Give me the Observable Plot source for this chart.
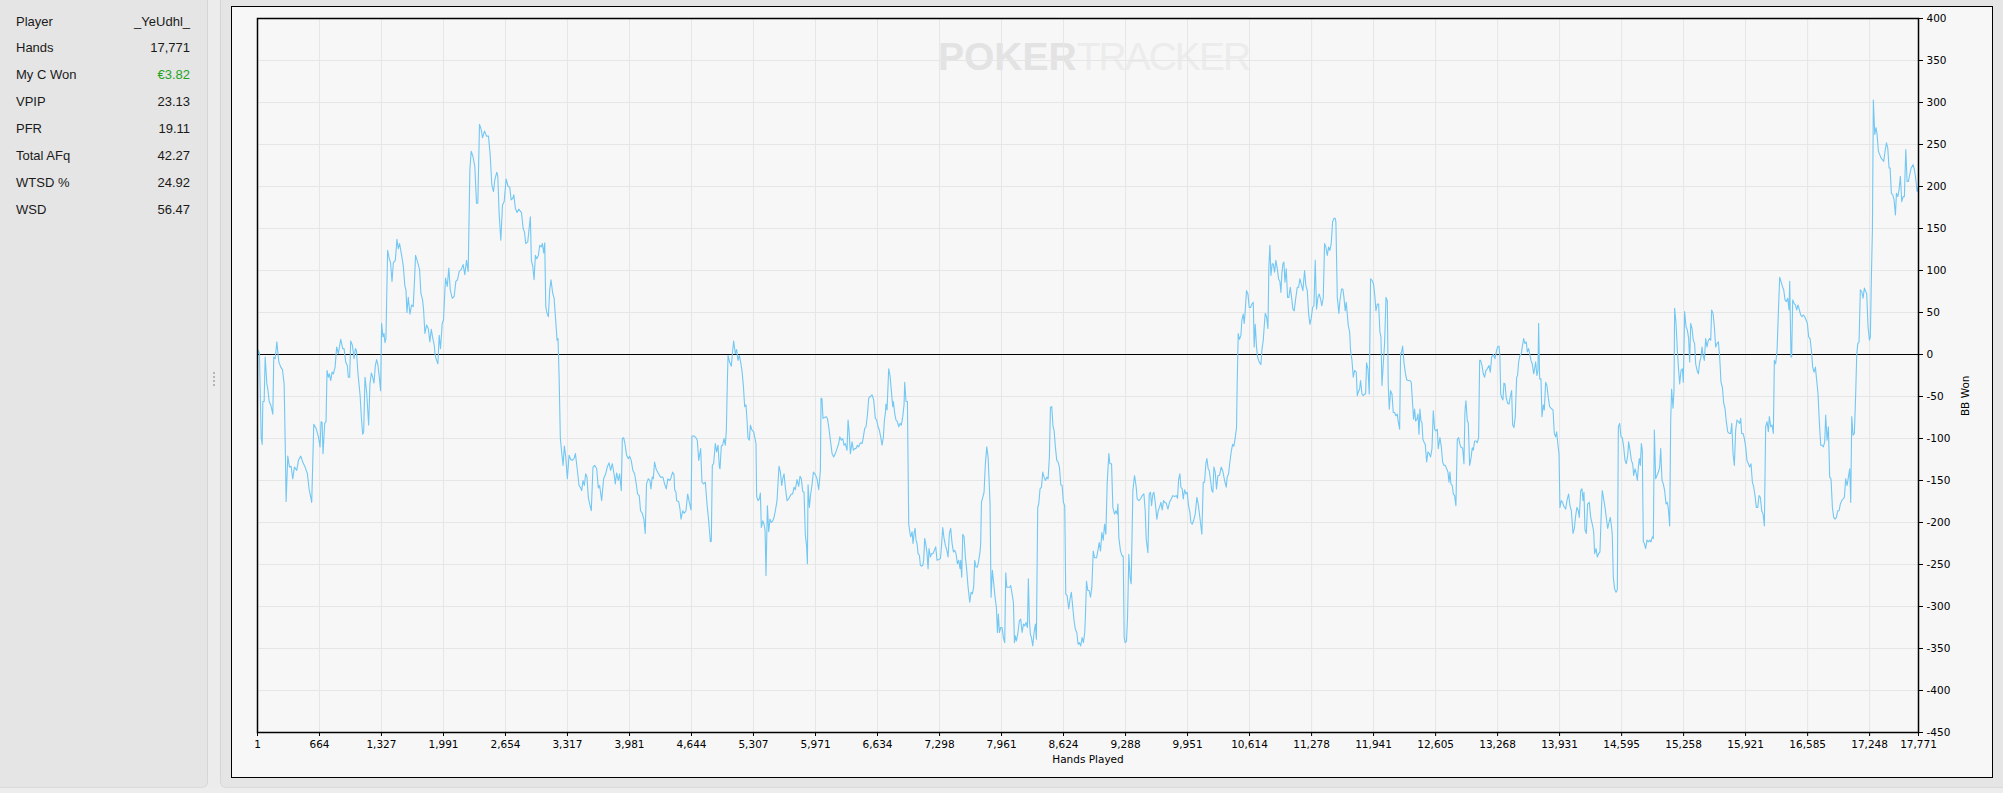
<!DOCTYPE html>
<html><head><meta charset="utf-8">
<script src="https://cdn.jsdelivr.net/npm/d3@7"></script>
<script src="https://cdn.jsdelivr.net/npm/@observablehq/plot@0.6"></script>
<style>
html,body{margin:0;padding:0;}
body{width:2003px;height:793px;background:#ededed;position:relative;overflow:hidden;font-family:"Liberation Sans",Arial,sans-serif;}
#left{position:absolute;left:0;top:0;width:207px;height:787px;background:#e5e5e5;border-right:1px solid #d6d6d6;border-bottom:1px solid #dadada;border-bottom-right-radius:6px;}
#split{position:absolute;left:208px;top:0;width:12px;height:788px;background:#ececec}
#handle{position:absolute;left:213px;top:372px;width:0;height:14px;border-left:2px dotted #b5b5b5}
#right{position:absolute;left:220px;top:0;width:1783px;height:788px;background:#e5e5e5;border-left:1px solid #d6d6d6;border-bottom:1px solid #dadada;border-bottom-left-radius:6px;box-sizing:border-box}
#chart{position:absolute;left:231px;top:6px;width:1762px;height:772px;}
#box{position:absolute;left:231px;top:6px;width:1762px;height:772px;box-sizing:border-box;border:1.5px solid #000;pointer-events:none}
.row{position:absolute;left:16px;width:174px;height:27px;line-height:27px;font-size:13px;color:#1a1a1a;}
.row .v{position:absolute;right:0;top:0}
</style></head>
<body>
<div id="left"></div>
<div id="split"></div>
<div id="handle"></div>
<div id="right"></div>
<div id="chart"></div>
<div id="box"></div>
<script>
// Stats panel
const statLabels = ["Player","Hands","My C Won","VPIP","PFR","Total AFq","WTSD %","WSD"];
const statValues = ["_YeUdhl_","17,771","€3.82","23.13","19.11","42.27","24.92","56.47"];
const statColors = ["#1a1a1a","#1a1a1a","#1fa31f","#1a1a1a","#1a1a1a","#1a1a1a","#1a1a1a","#1a1a1a"];

// Axis ticks
const xTicks = [1,664,1327,1991,2654,3317,3981,4644,5307,5971,6634,7298,7961,8624,9288,9951,10614,11278,11941,12605,13268,13931,14595,15258,15921,16585,17248,17771];
const yTicks = [400,350,300,250,200,150,100,50,0,-50,-100,-150,-200,-250,-300,-350,-400,-450];

// Cumulative BB won, [hand, bb]
const segment1 = [[1,0],[12,5],[22,1],[40,-98],[51,-107],[58,-56],[72,-56],[83,-3],[101,-35],[111,-41],[126,-56],[143,-60],[165,-71],[175,-3],[190,-5],[208,15],[229,-9],[250,-15],[268,-18],[286,-35],[300,-122],[307,-175],[325,-121],[343,-134],[361,-133],[378,-148],[396,-134],[421,-138],[439,-126],[464,-121],[485,-128],[510,-134],[535,-142],[553,-160],[581,-176],[603,-83],[628,-88],[653,-98],[670,-110],[681,-80],[692,-81],[702,-118],[720,-82],[734,-80],[745,-19],[759,-27],[770,-23],[784,-31],[799,-21],[813,-23],[831,-15],[848,9],[866,1],[891,18],[913,7],[927,7],[945,-9],[962,-13],[973,-27],[987,-27],[998,16],[1016,11],[1034,-5],[1048,7],[1059,5],[1076,-23],[1098,-48],[1112,-74],[1126,-95],[1137,-92],[1151,-27],[1169,-45],[1190,-84],[1204,-35],[1219,-22],[1233,-27],[1247,-34],[1262,-13],[1276,-6],[1290,-13],[1304,-27],[1318,-43],[1329,37],[1343,21],[1354,25],[1365,14],[1375,19],[1393,124],[1411,114],[1425,109],[1440,87],[1454,109],[1475,112],[1493,137],[1507,126],[1521,132],[1543,118],[1561,105],[1578,81],[1589,77],[1600,50],[1614,68],[1632,48],[1650,59],[1667,57],[1681,89],[1692,118],[1714,110],[1735,101],[1749,73],[1767,65],[1778,53],[1792,25],[1810,35],[1828,31],[1845,15],[1860,30],[1877,19],[1892,11],[1902,-1],[1917,-7],[1931,-11],[1945,23],[1959,7],[1977,37],[1991,41],[2006,77],[2013,91],[2031,81],[2048,103],[2063,77],[2084,67],[2105,69],[2123,87],[2141,89],[2159,99],[2180,101],[2201,107],[2219,95],[2237,112],[2255,99],[2273,220],[2287,242],[2305,236],[2326,224],[2344,180],[2358,180],[2376,274],[2394,268],[2408,258],[2429,266],[2451,260],[2472,260],[2490,238],[2508,202],[2526,194],[2540,208],[2561,217],[2572,212],[2586,168],[2604,136],[2622,178],[2640,182],[2661,209],[2682,200],[2700,199],[2714,184],[2732,186],[2743,190],[2760,174],[2778,169],[2796,173],[2825,169],[2843,150],[2857,146],[2871,132],[2892,134],[2906,149],[2920,164],[2931,112],[2946,105],[2960,89],[2974,118],[2988,114],[3006,118],[3020,130],[3035,128],[3049,132],[3063,121],[3074,133],[3085,57],[3099,49],[3113,45],[3127,77],[3141,89],[3159,73],[3174,67],[3191,41],[3206,17],[3216,19],[3227,-23],[3241,-100],[3255,-116],[3270,-132],[3284,-109],[3298,-121],[3316,-148],[3334,-120],[3352,-125],[3369,-126],[3387,-124],[3402,-118],[3419,-134],[3441,-156],[3455,-158],[3469,-162],[3483,-150],[3498,-156],[3512,-142],[3526,-146],[3540,-170],[3555,-178],[3572,-186],[3590,-134],[3608,-132],[3630,-136],[3647,-159],[3661,-156],[3683,-174],[3704,-148],[3726,-142],[3743,-134],[3761,-129],[3779,-138],[3797,-130],[3815,-142],[3829,-154],[3843,-141],[3861,-150],[3875,-142],[3893,-162],[3904,-100],[3918,-99],[3932,-106],[3950,-120],[3968,-124],[3982,-121],[3999,-126],[4017,-138],[4035,-142],[4053,-154],[4067,-166],[4085,-168],[4099,-186],[4117,-189],[4135,-196],[4149,-213],[4163,-154],[4181,-148],[4199,-150],[4210,-160],[4224,-146],[4235,-148],[4249,-128],[4267,-137],[4292,-142],[4313,-146],[4338,-146],[4356,-154],[4374,-160],[4391,-148],[4409,-150]];
const segment2 = [[4421,-148],[4442,-140],[4457,-143],[4464,-161],[4478,-164],[4485,-174],[4507,-175],[4521,-184],[4532,-196],[4550,-186],[4567,-189],[4585,-186],[4603,-166],[4621,-176],[4639,-185],[4649,-97],[4671,-97],[4692,-99],[4706,-102],[4721,-126],[4742,-112],[4756,-152],[4774,-154],[4792,-152],[4810,-178],[4828,-198],[4846,-223],[4856,-222],[4867,-132],[4881,-130],[4899,-106],[4913,-116],[4928,-108],[4942,-134],[4949,-136],[4963,-109],[4978,-108],[4992,-100],[5006,-108],[5017,-90],[5027,-35],[5035,-1],[5052,-9],[5070,-14],[5085,5],[5095,16],[5113,1],[5127,6],[5142,-7],[5156,-1],[5170,-9],[5184,-19],[5199,-37],[5213,-62],[5227,-60],[5238,-78],[5249,-100],[5263,-102],[5274,-84],[5291,-90],[5309,-92],[5320,-98],[5334,-106],[5341,-169],[5356,-174],[5370,-172],[5381,-165],[5391,-206],[5406,-198],[5420,-202],[5431,-209],[5441,-263],[5456,-180],[5470,-211],[5484,-196],[5498,-200],[5513,-198],[5527,-194],[5541,-186],[5559,-174],[5580,-133],[5595,-140],[5609,-156],[5620,-148],[5634,-142],[5648,-158],[5666,-174],[5684,-172],[5702,-168],[5712,-166],[5727,-166],[5741,-158],[5755,-161],[5773,-149],[5791,-157],[5805,-145],[5819,-148],[5834,-163],[5848,-164],[5862,-215],[5876,-229],[5884,-249],[5891,-155],[5905,-182],[5919,-166],[5933,-156],[5948,-140],[5969,-143],[5987,-148],[6005,-161],[6023,-138],[6030,-52],[6040,-53],[6051,-76],[6069,-75],[6083,-74],[6098,-76],[6112,-86],[6130,-102],[6148,-118],[6165,-122],[6183,-118],[6201,-112],[6219,-106],[6230,-98],[6247,-102],[6262,-100],[6276,-108],[6290,-106],[6308,-114],[6319,-78],[6329,-90],[6344,-118],[6362,-104],[6376,-114],[6390,-112],[6404,-112],[6419,-108],[6433,-110],[6451,-105],[6469,-106],[6483,-98],[6497,-88],[6511,-86],[6526,-72],[6540,-52],[6558,-50],[6576,-48],[6593,-54],[6611,-76],[6625,-78],[6640,-86],[6654,-90],[6668,-98],[6683,-108],[6697,-98],[6708,-78],[6718,-70],[6725,-59],[6736,-66],[6754,-17],[6768,-25],[6782,-43],[6797,-62],[6804,-56],[6818,-70],[6832,-78],[6847,-80],[6861,-86],[6875,-82],[6889,-84],[6904,-74],[6918,-60],[6925,-33],[6939,-56],[6954,-56],[6968,-202],[6982,-213],[6989,-217],[7004,-211],[7014,-225],[7025,-213],[7036,-207],[7046,-221],[7057,-225],[7068,-237],[7082,-239],[7093,-251],[7103,-252],[7118,-251],[7128,-245],[7139,-219],[7150,-225],[7164,-237],[7175,-255],[7185,-231],[7200,-241],[7214,-237],[7228,-237],[7243,-233],[7257,-229],[7271,-245],[7289,-244],[7307,-243],[7318,-229],[7332,-206],[7346,-219],[7360,-227],[7375,-233],[7389,-241],[7403,-213],[7417,-207],[7432,-225],[7446,-235],[7460,-233],[7474,-237],[7489,-249],[7503,-245],[7517,-255],[7524,-245],[7535,-265],[7546,-214],[7560,-217],[7574,-241],[7589,-257],[7603,-277],[7621,-295],[7635,-283],[7649,-285],[7663,-277],[7674,-245],[7688,-253],[7703,-253],[7717,-245],[7731,-235],[7738,-225],[7746,-176],[7760,-170],[7774,-164],[7788,-130],[7803,-110],[7817,-122],[7831,-158],[7838,-178],[7849,-289],[7863,-257],[7878,-273],[7892,-289],[7906,-301],[7917,-331],[7927,-309],[7938,-331],[7952,-325],[7967,-325],[7981,-337],[7995,-343],[8006,-260],[8017,-277],[8031,-277],[8049,-277],[8059,-275],[8074,-285],[8088,-295],[8099,-343],[8109,-335],[8120,-341],[8134,-333],[8152,-317],[8166,-315],[8181,-331],[8195,-321],[8209,-323],[8223,-319],[8238,-325],[8248,-267],[8259,-317],[8270,-333],[8281,-337],[8295,-347],[8309,-331],[8323,-321],[8334,-339],[8348,-182],[8359,-178],[8373,-160],[8388,-158],[8402,-140],[8416,-146],[8430,-150],[8445,-146],[8459,-148],[8473,-122],[8484,-63],[8498,-62],[8512,-86],[8523,-90],[8537,-110],[8552,-126],[8566,-128],[8580,-134],[8595,-155],[8609,-156],[8623,-176],[8637,-180],[8648,-285],[8662,-287],[8680,-303],[8694,-291],[8708,-283],[8723,-301],[8737,-317],[8751,-327],[8766,-331],[8780,-345],[8794,-343],[8808,-347],[8823,-337],[8837,-343],[8851,-331],[8858,-313]];
const segment3 = [[8870,-270],[8884,-281],[8899,-281],[8913,-289],[8927,-277],[8942,-234],[8956,-242],[8977,-242],[8991,-234],[9006,-224],[9020,-234],[9034,-212],[9049,-221],[9063,-202],[9077,-214],[9091,-154],[9109,-118],[9120,-130],[9138,-130],[9152,-182],[9170,-190],[9184,-186],[9198,-190],[9206,-178],[9216,-218],[9234,-234],[9252,-240],[9263,-240],[9273,-337],[9284,-343],[9298,-341],[9309,-313],[9323,-238],[9337,-266],[9348,-273],[9366,-162],[9384,-144],[9402,-158],[9412,-172],[9430,-174],[9448,-172],[9466,-168],[9484,-166],[9498,-186],[9509,-220],[9527,-236],[9541,-166],[9555,-164],[9566,-180],[9580,-166],[9591,-164],[9605,-176],[9623,-196],[9637,-186],[9651,-182],[9666,-176],[9680,-185],[9694,-174],[9708,-176],[9723,-177],[9741,-184],[9758,-176],[9776,-172],[9794,-168],[9812,-169],[9830,-168],[9844,-171],[9855,-149],[9869,-142],[9880,-158],[9894,-160],[9905,-172],[9919,-161],[9933,-166],[9947,-164],[9962,-180],[9976,-188],[9987,-200],[10001,-202],[10015,-198],[10033,-190],[10051,-170],[10065,-178],[10083,-194],[10104,-214],[10119,-152],[10133,-152],[10147,-130],[10158,-124],[10172,-136],[10183,-138],[10197,-150],[10211,-162],[10222,-164],[10233,-134],[10247,-140],[10261,-160],[10276,-144],[10293,-144],[10311,-134],[10329,-139],[10347,-150],[10365,-158],[10375,-146],[10390,-142],[10404,-128],[10418,-116],[10433,-107],[10447,-109],[10461,-99],[10475,-87],[10482,-35],[10493,25],[10507,18],[10522,23],[10532,41],[10547,48],[10557,37],[10568,52],[10582,76],[10597,72],[10611,56],[10625,56],[10639,60],[10654,62],[10664,9],[10675,36],[10689,9],[10700,-3],[10718,-9],[10736,-12],[10746,5],[10761,17],[10771,33],[10782,49],[10796,45],[10811,31],[10821,104],[10832,130],[10843,94],[10857,108],[10868,108],[10882,98],[10896,112],[10911,102],[10925,90],[10939,87],[10950,74],[10960,96],[10971,108],[10982,110],[10993,86],[11007,102],[11021,68],[11035,68],[11050,80],[11064,68],[11078,54],[11092,52],[11107,66],[11125,80],[11139,80],[11153,90],[11167,84],[11185,76],[11203,100],[11217,82],[11232,76],[11246,49],[11260,36],[11274,43],[11289,56],[11303,58],[11317,112],[11331,54],[11346,68],[11360,72],[11374,66],[11388,58],[11403,68],[11417,132],[11431,128],[11446,118],[11460,128],[11474,124],[11488,132],[11503,158],[11517,162],[11531,162],[11538,158],[11553,68],[11570,49],[11581,64],[11599,78],[11613,78],[11624,68],[11638,52],[11649,62],[11660,48],[11670,35],[11685,27],[11695,5],[11710,-7],[11724,-27],[11738,-19],[11756,-21],[11767,-49],[11777,-45],[11792,-41],[11802,-31],[11817,-47],[11831,-49],[11845,-47],[11856,-47],[11866,-10],[11881,-17],[11895,-47],[11909,90],[11927,88],[11941,84],[11956,68],[11966,52],[11981,60],[11995,60],[12009,27],[12020,21],[12031,-37],[12045,-11],[12059,13],[12074,68],[12088,64],[12098,-35],[12109,-65],[12123,-43],[12138,-47],[12152,-69],[12166,-69],[12180,-73],[12195,-71],[12205,-80],[12220,-89],[12230,1],[12241,3],[12252,10],[12266,-9],[12280,-21],[12295,-30],[12309,-31],[12330,-31],[12344,-33],[12359,-59],[12369,-77],[12380,-65],[12391,-79],[12405,-77],[12416,-71],[12427,-95],[12437,-65],[12448,-79],[12459,-81],[12469,-101],[12484,-105],[12494,-107],[12509,-128],[12523,-116],[12537,-118],[12551,-122],[12566,-112],[12580,-67],[12594,-89],[12608,-91],[12623,-89],[12633,-112],[12651,-99],[12665,-109],[12680,-128],[12694,-132],[12708,-132],[12723,-136],[12737,-140],[12748,-152],[12758,-140],[12769,-154],[12783,-156],[12794,-166],[12808,-168],[12822,-180],[12837,-101],[12851,-99],[12865,-107],[12879,-111],[12894,-111],[12908,-130],[12919,-67],[12929,-55],[12944,-79],[12954,-81],[12969,-132],[12983,-124],[12997,-111],[13008,-114],[13022,-103],[13037,-103],[13051,-105],[13065,-99],[13076,-7],[13086,-7],[13101,-13],[13115,-23],[13129,-27],[13143,-19],[13158,-17],[13176,-13],[13190,-21],[13204,-3],[13222,0],[13240,-5],[13254,3],[13268,9],[13283,10]];
const segment4 = [[13293,-3],[13301,-47],[13315,-52],[13325,-54],[13336,-34],[13347,-35],[13361,-52],[13375,-58],[13390,-59],[13404,-50],[13418,-43],[13429,-84],[13443,-87],[13457,-74],[13472,-27],[13482,-25],[13493,-9],[13507,-1],[13522,1],[13532,9],[13547,19],[13561,13],[13575,15],[13586,3],[13600,7],[13611,1],[13625,-7],[13639,-11],[13654,-23],[13664,-17],[13675,-9],[13689,-25],[13700,-19],[13707,37],[13718,-29],[13732,-29],[13743,-74],[13757,-60],[13768,-66],[13782,-33],[13796,-37],[13811,-52],[13825,-62],[13839,-64],[13861,-66],[13875,-94],[13889,-98],[13900,-92],[13914,-108],[13925,-118],[13935,-182],[13950,-174],[13964,-176],[13978,-181],[13996,-184],[14010,-174],[14028,-166],[14042,-180],[14057,-186],[14075,-213],[14089,-207],[14103,-192],[14117,-182],[14132,-186],[14142,-194],[14157,-162],[14171,-160],[14182,-174],[14192,-164],[14203,-209],[14217,-213],[14231,-178],[14249,-176],[14264,-194],[14281,-202],[14296,-211],[14306,-237],[14321,-231],[14335,-241],[14349,-237],[14363,-235],[14378,-186],[14388,-162],[14403,-172],[14417,-182],[14431,-194],[14446,-207],[14460,-200],[14474,-194],[14488,-206],[14495,-215],[14506,-265],[14520,-279],[14535,-283],[14549,-280],[14560,-86],[14574,-82],[14588,-98],[14602,-99],[14617,-110],[14631,-126],[14645,-130],[14660,-120],[14670,-104],[14685,-114],[14699,-126],[14713,-130],[14724,-144],[14738,-136],[14752,-142],[14763,-150],[14774,-134],[14784,-124],[14795,-132],[14806,-106],[14816,-114],[14827,-223],[14838,-225],[14852,-231],[14866,-221],[14881,-223],[14895,-221],[14909,-223],[14924,-217],[14934,-219],[14945,-90],[14959,-148],[14973,-144],[14988,-140],[15002,-134],[15013,-112],[15027,-150],[15041,-154],[15055,-162],[15070,-178],[15084,-176],[15095,-184],[15109,-204],[15120,-78],[15130,-41],[15145,-64],[15155,-43],[15162,55],[15177,37],[15191,5],[15205,-19],[15216,-35],[15230,-19],[15245,-17],[15255,-33],[15269,51],[15284,33],[15298,29],[15312,19],[15323,-9],[15334,37],[15348,31],[15362,17],[15376,13],[15387,-11],[15402,-19],[15416,-23],[15430,-9],[15444,-3],[15455,9],[15466,-1],[15480,-7],[15494,19],[15508,9],[15523,17],[15537,19],[15548,17],[15558,53],[15573,49],[15587,33],[15601,9],[15615,13],[15630,15],[15644,-3],[15658,-33],[15673,-39],[15687,-58],[15701,-64],[15715,-80],[15730,-92],[15747,-94],[15762,-94],[15773,-82],[15787,-118],[15801,-132],[15815,-90],[15829,-78],[15844,-80],[15858,-82],[15869,-76],[15879,-94],[15894,-94],[15908,-100],[15922,-110],[15936,-126],[15951,-130],[15965,-134],[15979,-130],[15994,-152],[16008,-158],[16022,-168],[16036,-182],[16051,-182],[16065,-168],[16079,-170],[16094,-186],[16108,-190],[16122,-204],[16136,-86],[16151,-80],[16165,-92],[16175,-74],[16190,-86],[16204,-84],[16218,-94],[16229,-7],[16243,-11],[16258,5],[16272,51],[16286,92],[16300,87],[16315,81],[16329,77],[16343,65],[16357,63],[16372,67],[16386,53],[16393,87],[16407,-3],[16414,-3],[16425,65],[16439,61],[16454,59],[16468,53],[16482,59],[16497,53],[16511,47],[16525,45],[16539,47],[16554,45],[16568,41],[16582,37],[16596,21],[16611,19],[16625,5],[16639,-15],[16654,-21],[16668,-15],[16682,-31],[16696,-47],[16711,-82],[16725,-108],[16739,-108],[16753,-110],[16768,-104],[16778,-72],[16793,-102],[16807,-86],[16821,-146],[16835,-148],[16850,-182],[16864,-194],[16878,-196],[16893,-194],[16907,-186],[16921,-186],[16935,-178],[16950,-174],[16964,-172],[16978,-170],[16992,-148],[17007,-156],[17021,-146],[17035,-136],[17046,-176],[17057,-74],[17071,-96],[17085,-94],[17099,-47],[17110,-1],[17121,13],[17135,15],[17149,77],[17164,75],[17178,67],[17192,79],[17206,75],[17217,73],[17231,33],[17246,17],[17256,21],[17267,93],[17278,148],[17288,303],[17303,262],[17317,270],[17328,262],[17342,242],[17356,238],[17370,234],[17385,232],[17399,230],[17413,242],[17428,252],[17442,246],[17456,222],[17467,222],[17481,192],[17495,190],[17510,184],[17524,166],[17535,192],[17549,188],[17563,196],[17577,212],[17592,182],[17606,188],[17620,188],[17635,244],[17649,206],[17663,206],[17677,214],[17692,222],[17713,226],[17727,220],[17741,210],[17756,194],[17771,200]];

// Build stats panel
statLabels.forEach((lab, i) => {
  const r = document.createElement("div");
  r.className = "row";
  r.style.top = (7.5 + i * 26.9) + "px";
  r.innerHTML = `<span></span><span class="v"></span>`;
  r.children[0].textContent = lab;
  r.children[1].textContent = statValues[i];
  r.children[1].style.color = statColors[i];
  document.getElementById("left").appendChild(r);
});

const data = [...segment1, ...segment2, ...segment3, ...segment4].map(([hand, bb]) => ({hand, bb}));

const plot = Plot.plot({
  width: 1762,
  height: 772,
  marginLeft: 26,
  marginTop: 12,
  marginRight: 75,
  marginBottom: 46,
  style: {background: "#f7f7f7", fontFamily: "'DejaVu Sans', sans-serif", fontSize: "10.5px", color: "#000"},
  x: {domain: [1, 17771]},
  y: {domain: [-450, 400]},
  marks: [
    Plot.gridX(xTicks, {stroke: "#e6e6e6", strokeOpacity: 1, strokeWidth: 1}),
    Plot.gridY(yTicks, {stroke: "#e6e6e6", strokeOpacity: 1, strokeWidth: 1}),
    Plot.ruleY([0], {stroke: "#000", strokeWidth: 1.2}),
    Plot.line(data, {x: "hand", y: "bb", stroke: "#72c7f3", strokeWidth: 1.1}),
    Plot.frame({stroke: "#000", strokeWidth: 1.5}),
    Plot.axisX(xTicks, {tickSize: 4, tickPadding: 4, tickFormat: d3.format(","), label: null}),
    Plot.axisY(yTicks, {anchor: "right", tickSize: 4, tickPadding: 4, tickFormat: d => String(d), label: null}),
    Plot.text(["Hands Played"], {frameAnchor: "bottom", dy: 30, fontSize: 10.5}),
    Plot.text(["BB Won"], {frameAnchor: "right", dx: 47, rotate: -90, fontSize: 10.5})
  ]
});
document.getElementById("chart").appendChild(plot);

// Faint watermark behind the grid: one text element with two styled parts
const ns = "http://www.w3.org/2000/svg";
const wm = document.createElementNS(ns, "text");
wm.setAttribute("text-anchor", "start");
wm.setAttribute("x", 707); wm.setAttribute("y", 64);
wm.setAttribute("font-family", "'Liberation Sans', Arial, sans-serif");
wm.setAttribute("font-size", 39);
const s1 = document.createElementNS(ns, "tspan");
s1.setAttribute("font-weight", "bold");
s1.setAttribute("fill", "#e3e3e3");
s1.textContent = "POKER";
const s2 = document.createElementNS(ns, "tspan");
s2.setAttribute("fill", "#ececec");
s2.setAttribute("letter-spacing", "-2");
s2.textContent = "TRACKER";
wm.appendChild(s1); wm.appendChild(s2);
const firstMark = plot.querySelector("g");
plot.insertBefore(wm, firstMark);
</script>
</body></html>
